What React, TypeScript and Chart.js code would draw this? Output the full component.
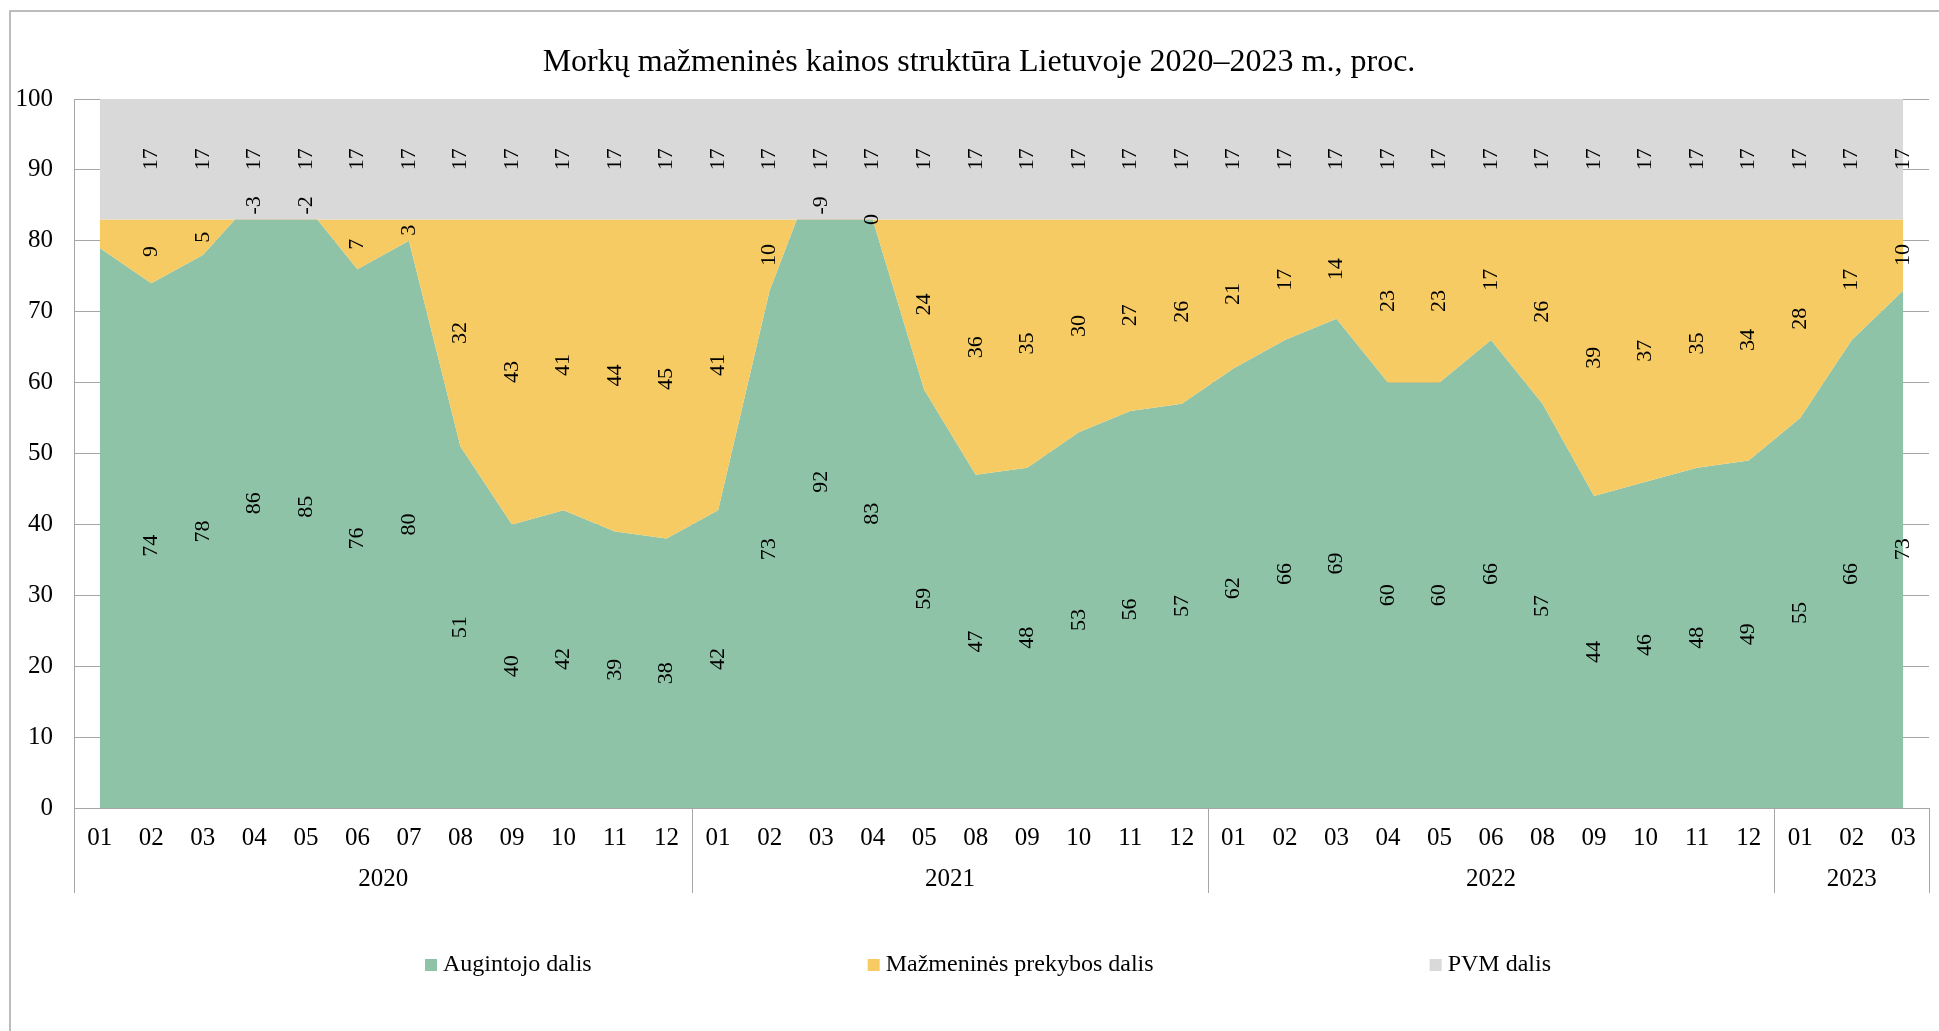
import React, { useEffect, useRef } from 'react';
import { Chart, registerables } from 'chart.js';

Chart.register(...registerables);

const FAMILY = "'Liberation Serif', 'Times New Roman', serif";

const TITLE = 'Morkų mažmeninės kainos struktūra Lietuvoje 2020–2023 m., proc.';

const months = [
  '01', '02', '03', '04', '05', '06', '07', '08', '09', '10', '11', '12',
  '01', '02', '03', '04', '05', '08', '09', '10', '11', '12',
  '01', '02', '03', '04', '05', '06', '08', '09', '10', '11', '12',
  '01', '02', '03',
];
const years = ['2020', '2021', '2022', '2023'];
const monthsPerYear = [12, 10, 11, 3];

const seriesNames = ['Augintojo dalis', 'Mažmeninės prekybos dalis', 'PVM dalis'];

const growerShare = [
  79, 74, 78, 86, 85, 76, 80, 51, 40, 42, 39, 38,
  42, 73, 92, 83, 59, 47, 48, 53, 56, 57,
  62, 66, 69, 60, 60, 66, 57, 44, 46, 48, 49,
  55, 66, 73,
];
const retailShare = [
  4, 9, 5, -3, -2, 7, 3, 32, 43, 41, 44, 45,
  41, 10, -9, 0, 24, 36, 35, 30, 27, 26,
  21, 17, 14, 23, 23, 17, 26, 39, 37, 35, 34,
  28, 17, 10,
];
const vatShare = [
  17, 17, 17, 17, 17, 17, 17, 17, 17, 17, 17, 17,
  17, 17, 17, 17, 17, 17, 17, 17, 17, 17,
  17, 17, 17, 17, 17, 17, 17, 17, 17, 17, 17,
  17, 17, 17,
];

const COLORS = ['#8ec3a7', '#f6cb63', '#d9d9d9'];
const GRID = '#a6a6a6';

export default function App() {
  const ref = useRef<HTMLCanvasElement | null>(null);

  useEffect(() => {
    if (!ref.current) return;
    const raw = [growerShare, retailShare, vatShare];
    // cumulative stack tops (Excel-like stacking of all signs)
    const tops: number[][] = [];
    raw.forEach((arr, s) => {
      tops.push(arr.map((v, i) => (s === 0 ? 0 : tops[s - 1][i]) + v));
    });

    const labelPlugin = {
      id: 'areaLabels',
      afterDatasetsDraw(chart: any) {
        const { ctx, scales } = chart;
        const xs = scales.x;
        const ys = scales.y;
        ctx.save();
        ctx.font = `22px ${FAMILY}`;
        ctx.fillStyle = '#000';
        ctx.textBaseline = 'middle';
        for (let s = 0; s < raw.length; s++) {
          for (let i = 1; i < raw[s].length; i++) {
            const v = raw[s][i];
            const bottom = s === 0 ? 0 : tops[s - 1][i];
            const top = tops[s][i];
            const x = xs.getPixelForValue(i);
            ctx.save();
            if (v < 0) {
              ctx.translate(x, ys.getPixelForValue(top));
              ctx.rotate(-Math.PI / 2);
              ctx.textAlign = 'left';
              ctx.fillText(String(v), 5, 0);
            } else {
              ctx.translate(x, ys.getPixelForValue((bottom + top) / 2));
              ctx.rotate(-Math.PI / 2);
              ctx.textAlign = 'center';
              ctx.fillText(String(v), 0, 0);
            }
            ctx.restore();
          }
        }
        ctx.restore();
      },
    };

    const decorPlugin = {
      id: 'decor',
      afterDraw(chart: any) {
        const { ctx, scales } = chart;
        const xs = scales.x;
        ctx.save();
        // outer frame
        ctx.strokeStyle = GRID;
        ctx.lineWidth = 1.5;
        ctx.beginPath();
        ctx.moveTo(10, chart.height);
        ctx.lineTo(10, 11);
        ctx.lineTo(chart.width, 11);
        ctx.stroke();

        // title
        ctx.fillStyle = '#000';
        ctx.font = `32px ${FAMILY}`;
        ctx.textAlign = 'center';
        ctx.textBaseline = 'middle';
        ctx.fillText(TITLE, 979, 62.5);

        // year separators and year labels
        const half = (xs.getPixelForValue(1) - xs.getPixelForValue(0)) / 2;
        const edge = (idx: number) =>
          idx >= months.length ? xs.getPixelForValue(months.length - 1) + half : xs.getPixelForValue(idx) - half;
        const yTop = xs.top;
        const yBot = xs.top + 85;
        ctx.strokeStyle = GRID;
        ctx.lineWidth = 1;
        let start = 0;
        const bounds = [0];
        monthsPerYear.forEach((n) => { start += n; bounds.push(start); });
        bounds.forEach((b) => {
          const x = Math.round(edge(b)) + 0.5;
          ctx.beginPath();
          ctx.moveTo(x, yTop);
          ctx.lineTo(x, yBot);
          ctx.stroke();
        });
        ctx.fillStyle = '#000';
        ctx.font = `25px ${FAMILY}`;
        ctx.textAlign = 'center';
        ctx.textBaseline = 'middle';
        years.forEach((yr, k) => {
          const cx = (edge(bounds[k]) + edge(bounds[k + 1])) / 2;
          ctx.fillText(yr, cx, xs.top + 71);
        });

        // legend
        ctx.font = `24px ${FAMILY}`;
        ctx.textAlign = 'left';
        const box = 12;
        const gapText = 6;
        const gapItem = 276;
        const widths = seriesNames.map((n) => ctx.measureText(n).width);
        const total = widths.reduce((a, w) => a + box + gapText + w, 0) + gapItem * (seriesNames.length - 1);
        let lx = 988 - total / 2;
        const ly = xs.bottom + 57;
        seriesNames.forEach((n, i) => {
          ctx.fillStyle = COLORS[i];
          ctx.fillRect(lx, ly - box / 2, box, box);
          ctx.fillStyle = '#000';
          ctx.fillText(n, lx + box + gapText, ly);
          lx += box + gapText + widths[i] + gapItem;
        });
        ctx.restore();
      },
    };

    const chart = new Chart(ref.current, {
      type: 'line',
      data: {
        labels: months,
        datasets: [
          {
            label: seriesNames[0],
            data: tops[0],
            backgroundColor: COLORS[0],
            borderColor: 'rgba(0,0,0,0)',
            fill: 'origin',
            order: 3,
          },
          {
            label: seriesNames[1],
            data: tops[1],
            backgroundColor: COLORS[1],
            borderColor: 'rgba(0,0,0,0)',
            fill: '-1',
            order: 2,
          },
          {
            label: seriesNames[2],
            data: tops[2],
            backgroundColor: COLORS[2],
            borderColor: 'rgba(0,0,0,0)',
            fill: '-1',
            order: 1,
          },
        ],
      },
      options: {
        responsive: false,
        animation: false,
        layout: { padding: { left: 0, right: 10, top: 99, bottom: 123 } },
        elements: {
          point: { radius: 0, hoverRadius: 0 },
          line: { tension: 0, borderWidth: 0 },
        },
        plugins: {
          legend: { display: false },
          tooltip: { enabled: false },
          title: { display: false },
        },
        scales: {
          x: {
            type: 'category',
            offset: true,
            grid: { display: false, drawTicks: false },
            border: { display: true, color: GRID, width: 1 },
            ticks: {
              color: '#000',
              font: { family: FAMILY, size: 25 },
              padding: 15,
              maxRotation: 0,
              autoSkip: false,
            },
            afterFit: (s: any) => { s.height = 100; },
          },
          y: {
            min: 0,
            max: 100,
            ticks: {
              stepSize: 10,
              color: '#000',
              font: { family: FAMILY, size: 25 },
              padding: 21,
            },
            grid: { color: GRID, drawTicks: false, lineWidth: 1 },
            border: { display: true, color: GRID, width: 1 },
            afterFit: (s: any) => { s.width = 74; },
          },
        },
      },
      plugins: [labelPlugin, decorPlugin],
    } as any);

    return () => chart.destroy();
  }, []);

  return (
    <div style={{ position: 'absolute', left: 0, top: 0, width: 1939, height: 1031, background: '#fff' }}>
      <canvas ref={ref} width={1939} height={1031} style={{ display: 'block' }} />
    </div>
  );
}
